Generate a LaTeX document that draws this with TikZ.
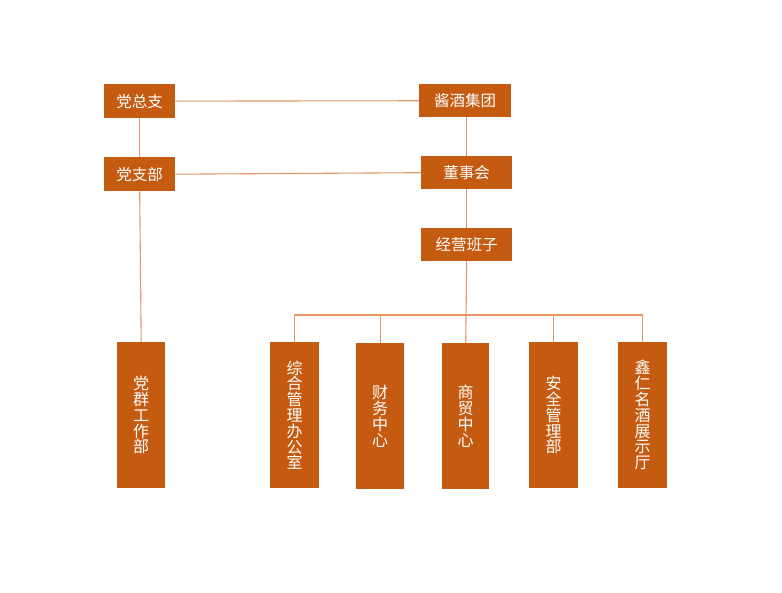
\documentclass[tikz,border=0pt]{standalone}
\usepackage{fontspec}
\newfontfamily\cjk{Noto Sans CJK SC}
\usetikzlibrary{positioning}
\definecolor{boxfill}{RGB}{197,90,17}
\definecolor{linkline}{RGB}{228,152,104}

\begin{document}
\begin{tikzpicture}[x=1pt, y=-1pt, font=\cjk\fontsize{15.5}{16}\selectfont]
  \tikzset{
    box/.style={fill=boxfill, draw=none, text=white, inner sep=0pt,
      anchor=north west, align=center},
    top/.style={box, minimum width=71pt, minimum height=34pt},
    mid/.style={box, minimum width=92pt, minimum height=33pt},
    col/.style={box, minimum width=48pt, minimum height=146pt,
      font=\cjk\fontsize{16}{15.8}\selectfont},
    link/.style={draw=linkline, line width=1.1pt},
  }
  \useasboundingbox (0,0) rectangle (782,593);
  % Left side
  \node[top] (zzb) at (104,84)  {党总支};
  \node[top] (dzb) at (104,157) {党支部};
  % Right side
  \node[mid] (jjt) at (419,84)  {酱酒集团};
  \node[mid, minimum width=91pt] (dsh) at (421,156) {董事会};
  \node[mid, minimum width=91pt] (jyb) at (421,228) {经营班子};
  % Bottom row
  \node[col] (dqb) at (117,342) {党\\群\\工\\作\\部};
  \node[col, minimum width=49pt] (zhb) at (270,342) {综\\合\\管\\理\\办\\公\\室};
  \node[col] (cwz) at (356,343) {财\\务\\中\\心};
  \node[col, minimum width=47pt] (smz) at (442,343) {商\\贸\\中\\心};
  \node[col, minimum width=49pt] (aqb) at (529,342) {安\\全\\管\\理\\部};
  \node[col, minimum width=49pt] (xrt) at (618,342) {鑫\\仁\\名\\酒\\展\\示\\厅};
  \coordinate (bus) at (466,315);
  % Links
  \draw[link] (zzb) -- (jjt);
  \draw[link] (dzb.east) -- (dsh.west);
  \draw[link] (zzb.south) -- (dzb.north);
  \draw[link] (dzb.south) -- (dqb.north);
  \draw[link] (dsh.north |- jjt.south) -- (dsh.north);
  \draw[link] (dsh.south) -- (jyb.north);
  \draw[link] (jyb.south) -- (smz.north);
  \draw[link] (zhb.north) |- (bus) -| (xrt.north);
  \foreach \n in {cwz, aqb}
    \draw[link] (\n.north) -- (\n.north |- bus);
\end{tikzpicture}
\end{document}
